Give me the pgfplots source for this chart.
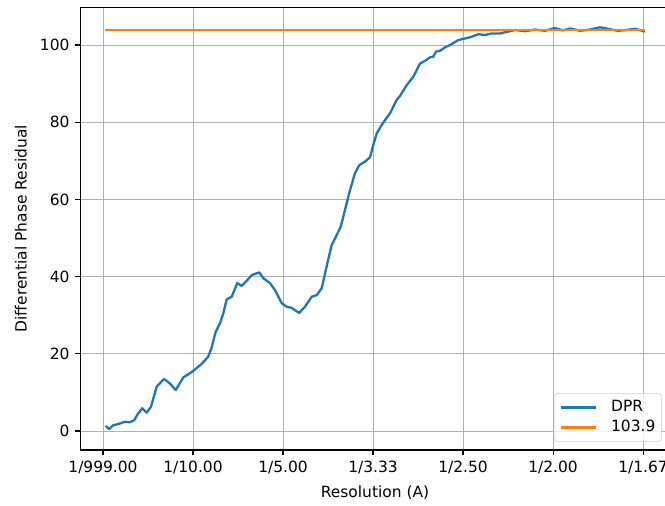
\documentclass[border=0pt]{standalone}
\usepackage{fontspec}
\setmainfont{DejaVu Sans}
\usepackage{pgfplots}
\pgfplotsset{compat=1.18}
\definecolor{c0}{HTML}{1F77B4}
\definecolor{c1}{HTML}{FF7F0E}
\definecolor{gridc}{HTML}{B0B0B0}
\begin{document}
\begin{tikzpicture}
\begin{axis}[
 name=ax, at={(0,0)}, anchor=south west,
 scale only axis, width=441.75pt, height=332pt,
 xmin=-0.025, xmax=0.6294, ymin=-4.92, ymax=109.77,
 xtick={0,0.1,0.2,0.3,0.4,0.5,0.6},
 xticklabels={1/999.00,1/10.00,1/5.00,1/3.33,1/2.50,1/2.00,1/1.67},
 ytick={0,20,40,60,80,100},
 tick pos=left, tick align=outside,
 major tick length=4.07pt,
 every tick/.style={black, line width=0.8pt},
 axis line style={line width=0.8pt},
 grid=major, major grid style={gridc, line width=0.75pt},
 font=\fontsize{11.6}{13.9}\selectfont,
 ticklabel style={font=\fontsize{11.6}{13.9}\selectfont},
 /pgf/number format/assume math mode=true,
 xticklabel style={anchor=north, inner sep=0pt, yshift=-4pt},
 yticklabel style={anchor=east, inner sep=0pt, xshift=-4pt},
 xlabel={Resolution (A)},
 ylabel={Differential Phase Residual},
 xlabel style={at={(axis description cs:0.5,-0.10843)}, anchor=base, inner sep=0pt},
 ylabel style={at={(axis description cs:-0.09134,0.5)}, rotate=0, anchor=base, inner sep=0pt},
 legend style={at={(1,0)}, anchor=south east, xshift=-5.85pt, yshift=6.2pt,
   draw=black!20, fill=white, fill opacity=0.8, text opacity=1, draw opacity=1,
   rounded corners=2.3pt, inner xsep=4.5pt, inner ysep=4.6pt,
   font=\fontsize{11.6}{13.9}\selectfont,
   nodes={inner sep=0pt, text height=8.7pt, text depth=2.9pt},
   row sep=3.5pt,
   /tikz/every odd column/.style={column sep=10.5pt}},
 legend cell align=left,
 legend image code/.code={\draw[#1] (0pt,0pt) -- (26pt,0pt);},
]
\addplot[c0, line width=1.74pt, line join=round] coordinates {
(0.003,1.3) (0.0067,0.5) (0.0114,1.5) (0.017,1.8) (0.0244,2.4) (0.030,2.25)
(0.0348,2.85) (0.0392,4.6) (0.0437,5.9) (0.0486,4.75) (0.0533,6.3) (0.0597,11.5)
(0.0678,13.5) (0.0744,12.3) (0.0808,10.6) (0.0892,13.9) (0.0948,14.7) (0.1003,15.6)
(0.1097,17.4) (0.1170,19.3) (0.1208,21.7) (0.1252,25.7) (0.1300,27.9) (0.1337,30.5)
(0.1374,34.1) (0.1430,34.8) (0.1492,38.3) (0.1541,37.6) (0.1597,38.9) (0.1652,40.4)
(0.1737,41.1) (0.1781,39.6) (0.1856,38.3) (0.1911,36.5) (0.1986,33.1) (0.2041,32.2)
(0.2097,31.9) (0.2133,31.3) (0.2181,30.6) (0.2244,32.2) (0.2319,34.8) (0.2374,35.2)
(0.2430,37.0) (0.2492,43.4) (0.2541,48.2) (0.2597,50.8) (0.2641,52.9) (0.2689,57.3)
(0.2744,62.4) (0.2800,66.8) (0.2848,68.9) (0.2911,69.8) (0.2967,70.9) (0.3003,74.1)
(0.3041,77.1) (0.3097,79.3) (0.3141,80.8) (0.3189,82.3) (0.3263,85.8) (0.3300,86.8)
(0.3374,89.6) (0.3448,91.8) (0.3522,95.2) (0.3578,95.9) (0.3633,96.8) (0.3670,97.0)
(0.3700,98.3) (0.3744,98.5) (0.3800,99.4) (0.3856,100.0) (0.3948,101.3) (0.4003,101.6)
(0.4078,102.0) (0.4170,102.8) (0.4244,102.6) (0.4319,103.0) (0.4411,103.0) (0.4485,103.4)
(0.4578,103.9) (0.469,103.6) (0.48,104.0) (0.491,103.7) (0.502,104.4) (0.511,103.8)
(0.519,104.3) (0.530,103.7) (0.541,104.0) (0.552,104.6) (0.563,104.1) (0.572,103.7)
(0.582,103.9) (0.591,104.2) (0.602,103.5)
};
\addlegendentry{DPR}
\addplot[c1, line width=1.74pt] coordinates {(0.0022,103.9) (0.602,103.9)};
\addlegendentry{103.9}
\end{axis}
\pgfresetboundingbox
\path[use as bounding box] (-60.375pt,-42pt) rectangle (438.375pt,337.5pt);
\end{tikzpicture}
\end{document}
